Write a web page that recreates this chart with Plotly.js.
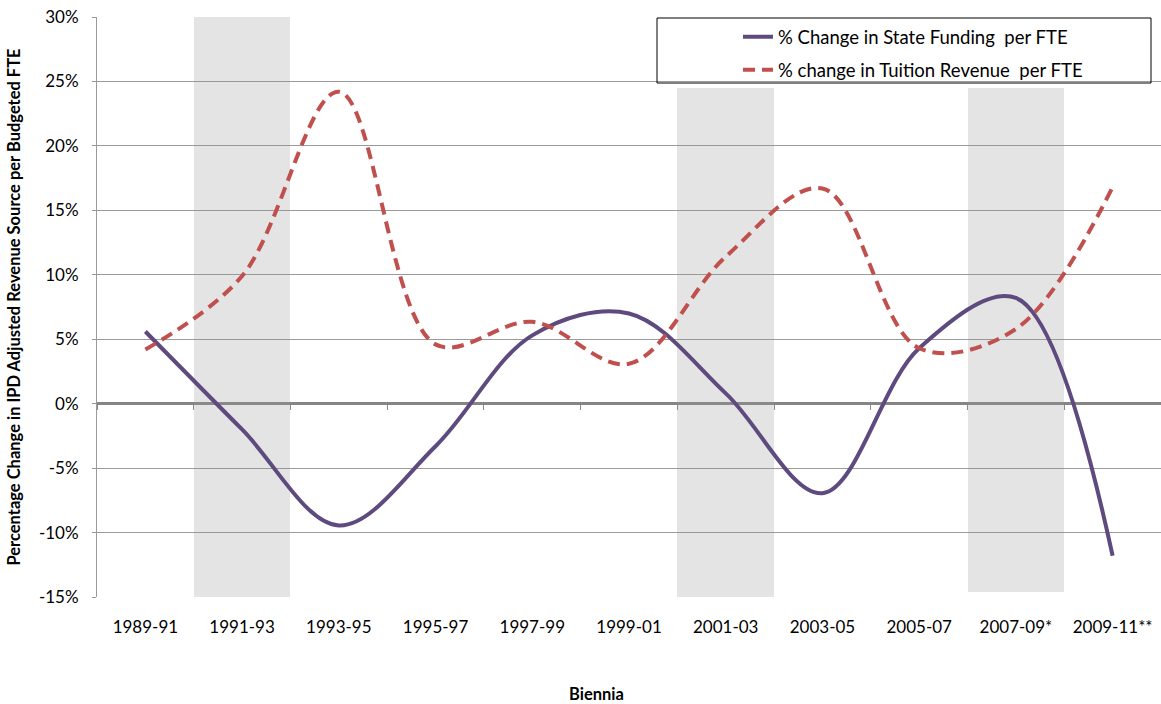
<!DOCTYPE html>
<html>
<head>
<meta charset="utf-8">
<script src="https://cdn.plot.ly/plotly-3.0.1.min.js"></script>
<style>html,body{margin:0;padding:0;background:#fff;}#chart{width:1161px;height:704px;}</style>
</head>
<body>
<div id="chart"></div>
<script>
const categories = ["1989-91","1991-93","1993-95","1995-97","1997-99","1999-01","2001-03","2003-05","2005-07","2007-09*","2009-11**"];
const stateFunding = [5.6, -2.0, -9.45, -3.3, 5.3, 7.0, 0.8, -6.95, 4.3, 8.2, -11.8];
const tuitionRevenue = [4.2, 9.9, 24.2, 4.6, 6.35, 3.1, 11.4, 16.7, 4.3, 5.8, 16.8];
// shaded biennia (top and bottom of each grey band, in %)
const bandTop =    [null, 30.2, null, null, null, null, 24.5, null, null, 24.5, null];
const bandBottom = [null, -15,  null, null, null, null, -15.1, null, null, -14.6, null];
const yTickVals = [-15, -10, -5, 0, 5, 10, 15, 20, 25, 30];
const yTickText = ["-15%","-10%","-5%","0%","5%","10%","15%","20%","25%","30%"];

const FONT = "Lato, 'Open Sans', sans-serif";
const boundaries = [];
for (let i = 0; i <= categories.length; i++) boundaries.push(i - 0.5);

const traces = [
  {
    type: "bar", x: categories, y: bandTop.map((t, i) => t === null ? null : t - bandBottom[i]),
    base: bandBottom, width: 1, marker: {color: "rgba(150,150,150,0.257)", line: {width: 0}},
    showlegend: false, hoverinfo: "skip", cliponaxis: false
  },
  {
    type: "scatter", mode: "lines", x: categories, y: stateFunding,
    name: "% Change in State Funding  per FTE", legendgroup: "a",
    line: {color: "#5E4A7E", width: 4, shape: "spline", smoothing: 1}
  },
  {
    type: "scatter", mode: "lines", x: categories, y: tuitionRevenue,
    name: "% change in Tuition Revenue  per FTE", legendgroup: "b",
    line: {color: "#C0504D", width: 4, shape: "spline", smoothing: 1, dash: "12px,7px"}
  },
  {
    type: "scatter", mode: "lines", x: [0], y: [0], xaxis: "x2", showlegend: false,
    hoverinfo: "skip", line: {width: 0}
  }
];

const layout = {
  width: 1161, height: 704,
  margin: {l: 97, r: 0, t: 17, b: 107},
  paper_bgcolor: "#ffffff", plot_bgcolor: "#ffffff",
  font: {family: FONT, size: 17, color: "#000"},
  showlegend: true,
  bargap: 0,
  legend: {
    x: (738 - 97) / 1064, xanchor: "left", y: 0.998, yanchor: "top",
    bgcolor: "rgba(0,0,0,0)", borderwidth: 0, tracegroupgap: 6,
    font: {family: FONT, size: 18.5, color: "#000"}
  },
  xaxis: {
    type: "category", range: [-0.5, 10.5], showgrid: false, zeroline: false,
    showline: false, ticks: "", ticklabelstandoff: 18,
    tickfont: {family: FONT, size: 17, color: "#000"}
  },
  xaxis2: {
    overlaying: "x", anchor: "free", position: 15 / 45, range: [-0.5, 10.5],
    tickmode: "array", tickvals: boundaries, ticktext: boundaries.map(() => ""),
    ticks: "outside", ticklen: 5, tickcolor: "#8a8a8a", tickwidth: 1,
    showgrid: false, zeroline: false, showline: false, showticklabels: false
  },
  yaxis: {
    range: [-15, 30], tickmode: "array", tickvals: yTickVals, ticktext: yTickText,
    showgrid: true, gridcolor: "#9a9a9a", gridwidth: 1,
    zeroline: true, zerolinecolor: "#858585", zerolinewidth: 3,
    showline: true, linecolor: "#9a9a9a", linewidth: 1,
    ticks: "outside", ticklen: 4, tickcolor: "#9a9a9a", ticklabelstandoff: 10,
    tickfont: {family: FONT, size: 17, color: "#000"},
    title: {
      text: "Percentage Change in IPD Adjusted Revenue Source per Budgeted FTE",
      font: {family: FONT, size: 16.5, color: "#000", weight: "bold"}, standoff: 14
    }
  },
  shapes: [
    {type: "rect", xref: "paper", yref: "paper", layer: "above",
     x0: (657 - 97) / 1064, x1: (1151 - 97) / 1064, y0: (597 - 83) / 580, y1: (597 - 18) / 580,
     line: {color: "#000", width: 1}, fillcolor: "rgba(0,0,0,0)"}
  ],
  annotations: [
    {text: "<b>Biennia</b>", xref: "paper", yref: "paper", x: (596 - 97) / 1064, y: (597 - 694) / 580,
     xanchor: "center", yanchor: "middle", showarrow: false,
     font: {family: FONT, size: 16.5, color: "#000"}}
  ]
};

Plotly.newPlot("chart", traces, layout, {displayModeBar: false, staticPlot: true});
</script>
</body>
</html>
